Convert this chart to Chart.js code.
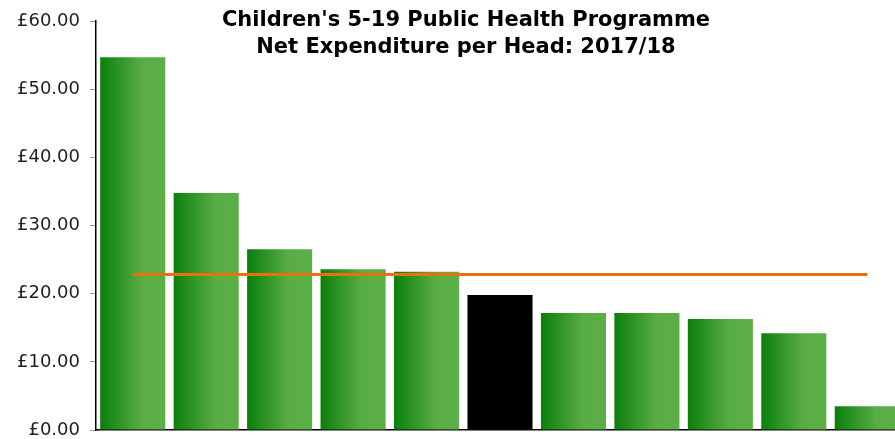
<!DOCTYPE html>
<html>
<head>
<meta charset="utf-8">
<script src="https://cdn.jsdelivr.net/npm/chart.js@4/dist/chart.umd.min.js"></script>
<style>
  html, body { margin: 0; padding: 0; background: #fff; overflow: hidden; }
  #wrap { width: 895px; height: 439px; overflow: hidden; position: relative; }
  canvas { display: block; }
</style>
</head>
<body>
<div id="wrap"><canvas id="chart" width="904" height="439"></canvas></div>
<script>
// Data
const areas = ['A', 'B', 'C', 'D', 'E', 'F', 'G', 'H', 'I', 'J', 'K'];
const spendPerHead = [54.7, 34.75, 26.5, 23.6, 23.2, 19.8, 17.15, 17.15, 16.3, 14.2, 3.5];
const highlightIndex = 5;
const averageValue = 22.8;
const averageLine = areas.map(() => averageValue);
const yTicks = [0, 10, 20, 30, 40, 50, 60];
const titleLines = ["Children's 5-19 Public Health Programme", 'Net Expenditure per Head: 2017/18'];

const BAR_PCT = 0.886;

function barFill(context) {
    if (context.dataIndex === highlightIndex) return '#000000';
    const chart = context.chart;
    const xScale = chart.scales.x;
    if (!xScale || xScale.width === undefined) return '#3a9a2a';
    const center = xScale.getPixelForValue(context.dataIndex);
    const half = (xScale.width / areas.length) * BAR_PCT / 2;
    const g = chart.ctx.createLinearGradient(center - half, 0, center + half, 0);
    g.addColorStop(0, '#0b7f0b');
    g.addColorStop(0.65, '#5aad45');
    g.addColorStop(1, '#5cae46');
    return g;
}

// Title drawn over the plot area
const titlePlugin = {
    id: 'overlayTitle',
    afterDraw(chart) {
        const c = chart.ctx;
        c.save();
        c.font = 'bold 21px "DejaVu Sans", Verdana, sans-serif';
        c.fillStyle = '#000';
        c.textAlign = 'center';
        c.textBaseline = 'middle';
        c.fillText(titleLines[0], 466, 21);
        c.fillText(titleLines[1], 466, 48);
        c.restore();
    }
};

new Chart(document.getElementById('chart'), {
    data: {
        labels: areas,
        datasets: [
            {
                type: 'line',
                data: averageLine,
                borderColor: '#ea700e',
                borderWidth: 3,
                pointRadius: 0,
                fill: false,
                order: 0
            },
            {
                type: 'bar',
                data: spendPerHead,
                backgroundColor: barFill,
                borderWidth: 0,
                barPercentage: BAR_PCT,
                categoryPercentage: 1,
                order: 1
            }
        ]
    },
    options: {
        responsive: false,
        animation: false,
        layout: { padding: { top: 21, right: 0, bottom: 1, left: 0 } },
        plugins: {
            legend: { display: false },
            title: { display: false },
            tooltip: { enabled: false }
        },
        scales: {
            x: {
                grid: { display: false },
                ticks: { display: false },
                border: { color: '#000', width: 1.5 }
            },
            y: {
                min: 0,
                max: 60,
                afterBuildTicks: (scale) => { scale.ticks = yTicks.map(v => ({ value: v })); },
                afterFit: (scale) => {
                    scale.width = 96;
                    scale.paddingTop = 0;
                    scale.paddingBottom = 0;
                },
                grid: { drawOnChartArea: false, drawTicks: true, tickLength: 6, color: '#999' },
                border: { color: '#000', width: 1.5 },
                ticks: {
                    color: '#222',
                    padding: 10,
                    font: { family: '"DejaVu Sans", Verdana, sans-serif', size: 18 },
                    callback: (v) => '£' + Number(v).toFixed(2)
                }
            }
        }
    },
    plugins: [titlePlugin]
});
</script>
</body>
</html>
